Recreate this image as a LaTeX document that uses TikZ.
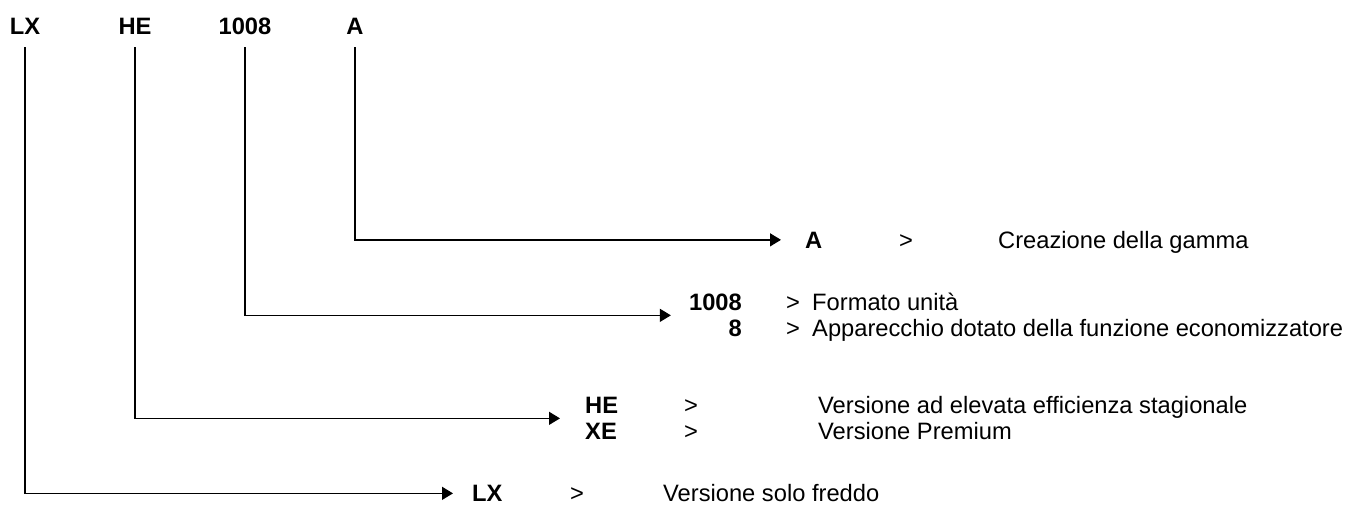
\documentclass[tikz,border=0pt]{standalone}
\usepackage{fontspec}
\setmainfont{Liberation Sans}
\usetikzlibrary{arrows.meta,positioning}

\begin{document}
\begin{tikzpicture}[
        x=1pt, y=-1pt,
        every node/.style={inner sep=0pt},
        lbl/.style={font=\fontsize{23.7}{26}\selectfont\bfseries, anchor=base},
        code/.style={font=\fontsize{23.7}{26}\selectfont\bfseries},
        sign/.style={font=\fontsize{23.7}{26}\selectfont, align=center, anchor=base},
        txt/.style={font=\fontsize{23.7}{26}\selectfont, align=left, anchor=base west},
        arrow/.style={-{Triangle[length=11pt,width=13pt]}, line width=1.3pt}
    ]
        \useasboundingbox (0,0) rectangle (1347,504);

        % Model code
        \node[lbl] (lx) at (25,34) {LX};
        \node[lbl] (he) at (135,34) {HE};
        \node[lbl] (num) at (245,34) {1008};
        \node[lbl] (let) at (355,34) {A};

        % Range
        \node[code, anchor=base west] (codeA) at (805,248) {A};
        \node[sign] (gtA) at (906,248) {>};
        \node[txt] (descA) at (998,248) {Creazione della gamma};

        % Size (base = last line)
        \node[code, align=right, anchor=base east] (code1008) at (742,336.5) {1008\\8};
        \node[sign] (gt1008) at (793,336.5) {>\\>};
        \node[txt] (desc1008) at (812,336.5) {Formato unità\\Apparecchio dotato della funzione economizzatore};

        % Efficiency
        \node[code, align=left, anchor=base west] (codeHE) at (585,439.5) {HE\\XE};
        \node[sign] (gtHE) at (691,439.5) {>\\>};
        \node[txt] (descHE) at (818,439.5) {Versione ad elevata efficienza stagionale\\Versione Premium};

        % Version
        \node[code, anchor=base west] (codeLX) at (472,501.5) {LX};
        \node[sign] (gtLX) at (577,501.5) {>};
        \node[txt] (descLX) at (663,501.5) {Versione solo freddo};

        % Arrows
        \draw[arrow, shorten <=13pt, shorten >=24pt] (let.south) |- (codeA.west);
        \draw[arrow, shorten <=13pt, shorten >=18pt] (num.south) |- (code1008.west);
        \draw[arrow, shorten <=13pt, shorten >=25pt] (he.south) |- (codeHE.west);
        \draw[arrow, shorten <=13pt, shorten >=19pt] (lx.south) |- (codeLX.west);
    \end{tikzpicture}
\end{document}
